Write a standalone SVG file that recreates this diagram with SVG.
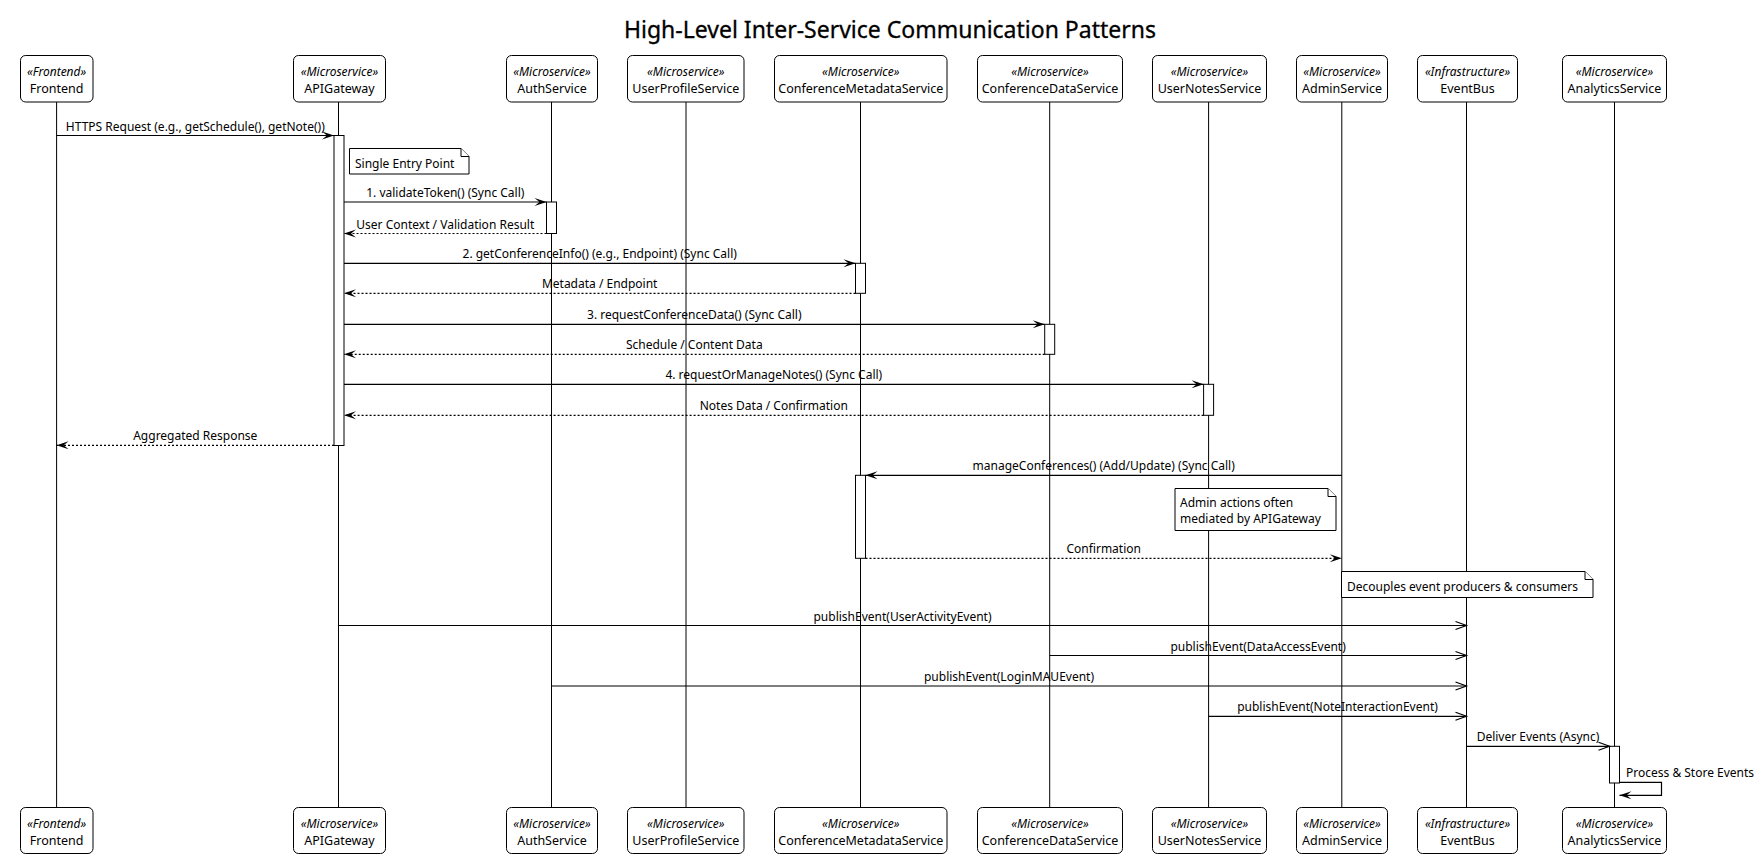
<svg xmlns="http://www.w3.org/2000/svg" width="1761" height="858" viewBox="0 0 1761 858">
<style>
text{font-family:"Noto Sans","DejaVu Sans",sans-serif;fill:#000}
.title{font-size:23px;text-anchor:middle;stroke:#000;stroke-width:0.3}
.st{font-size:12px;font-style:italic;text-anchor:middle}
.nm{font-size:12.5px;text-anchor:middle}
.msg{font-size:12px;text-anchor:middle}
.nt{font-size:12px}
.box{fill:#fff;stroke:#000;stroke-width:1}
.life{stroke:#000;stroke-width:1}
.act{fill:#fff;stroke:#000;stroke-width:1}
.note{fill:#fff;stroke:#000;stroke-width:1}
.sync{stroke:#000;stroke-width:1.2;fill:none;marker-end:url(#fill)}
.ret{stroke:#000;stroke-width:1.2;fill:none;stroke-dasharray:2 2;marker-end:url(#fill)}
.async{stroke:#000;stroke-width:1.2;fill:none;marker-end:url(#open)}
</style>
<defs>
<marker id="fill" markerUnits="userSpaceOnUse" markerWidth="14" markerHeight="10" refX="12" refY="4" orient="auto" overflow="visible"><path d="M0,0 L12,4 L0,8 L5,4 Z" fill="#000"/></marker>
<marker id="open" markerUnits="userSpaceOnUse" markerWidth="14" markerHeight="10" refX="11" refY="4" orient="auto" overflow="visible"><path d="M0,0 L11,4 L0,8" fill="none" stroke="#000" stroke-width="1.2"/></marker>
</defs>
<rect width="1761" height="858" fill="#fff"/>
<text class="title" x="890" y="38">High-Level Inter-Service Communication Patterns</text>

<g id="lifelines">
<line class="life" x1="56.6" y1="102" x2="56.6" y2="808"/>
<line class="life" x1="338.5" y1="102" x2="338.5" y2="808"/>
<line class="life" x1="551.5" y1="102" x2="551.5" y2="808"/>
<line class="life" x1="686" y1="102" x2="686" y2="808"/>
<line class="life" x1="860.5" y1="102" x2="860.5" y2="808"/>
<line class="life" x1="1049.7" y1="102" x2="1049.7" y2="808"/>
<line class="life" x1="1208.6" y1="102" x2="1208.6" y2="808"/>
<line class="life" x1="1341.8" y1="102" x2="1341.8" y2="808"/>
<line class="life" x1="1466.5" y1="102" x2="1466.5" y2="808"/>
<line class="life" x1="1614.5" y1="102" x2="1614.5" y2="808"/>
</g>

<g id="Frontend">
<rect class="box" x="20.5" y="55.5" width="72.5" height="46.5" rx="5"/>
<text class="st" x="56.6" y="76">«Frontend»</text><text class="nm" x="56.6" y="92.5">Frontend</text>
<rect class="box" x="20.5" y="807.5" width="72.5" height="46" rx="5"/>
<text class="st" x="56.6" y="828">«Frontend»</text><text class="nm" x="56.6" y="844.5">Frontend</text>
</g>
<g id="APIGateway">
<rect class="box" x="293.5" y="55.5" width="92" height="46.5" rx="5"/>
<text class="st" x="339.5" y="76">«Microservice»</text><text class="nm" x="339.5" y="92.5">APIGateway</text>
<rect class="box" x="293.5" y="807.5" width="92" height="46" rx="5"/>
<text class="st" x="339.5" y="828">«Microservice»</text><text class="nm" x="339.5" y="844.5">APIGateway</text>
</g>
<g id="AuthService">
<rect class="box" x="506.5" y="55.5" width="91" height="46.5" rx="5"/>
<text class="st" x="552" y="76">«Microservice»</text><text class="nm" x="552" y="92.5">AuthService</text>
<rect class="box" x="506.5" y="807.5" width="91" height="46" rx="5"/>
<text class="st" x="552" y="828">«Microservice»</text><text class="nm" x="552" y="844.5">AuthService</text>
</g>
<g id="UserProfileService">
<rect class="box" x="627.5" y="55.5" width="116.5" height="46.5" rx="5"/>
<text class="st" x="685.8" y="76">«Microservice»</text><text class="nm" x="685.8" y="92.5">UserProfileService</text>
<rect class="box" x="627.5" y="807.5" width="116.5" height="46" rx="5"/>
<text class="st" x="685.8" y="828">«Microservice»</text><text class="nm" x="685.8" y="844.5">UserProfileService</text>
</g>
<g id="ConferenceMetadataService">
<rect class="box" x="774.5" y="55.5" width="172.5" height="46.5" rx="5"/>
<text class="st" x="860.8" y="76">«Microservice»</text><text class="nm" x="860.8" y="92.5">ConferenceMetadataService</text>
<rect class="box" x="774.5" y="807.5" width="172.5" height="46" rx="5"/>
<text class="st" x="860.8" y="828">«Microservice»</text><text class="nm" x="860.8" y="844.5">ConferenceMetadataService</text>
</g>
<g id="ConferenceDataService">
<rect class="box" x="977.5" y="55.5" width="145" height="46.5" rx="5"/>
<text class="st" x="1050" y="76">«Microservice»</text><text class="nm" x="1050" y="92.5">ConferenceDataService</text>
<rect class="box" x="977.5" y="807.5" width="145" height="46" rx="5"/>
<text class="st" x="1050" y="828">«Microservice»</text><text class="nm" x="1050" y="844.5">ConferenceDataService</text>
</g>
<g id="UserNotesService">
<rect class="box" x="1152.5" y="55.5" width="114" height="46.5" rx="5"/>
<text class="st" x="1209.5" y="76">«Microservice»</text><text class="nm" x="1209.5" y="92.5">UserNotesService</text>
<rect class="box" x="1152.5" y="807.5" width="114" height="46" rx="5"/>
<text class="st" x="1209.5" y="828">«Microservice»</text><text class="nm" x="1209.5" y="844.5">UserNotesService</text>
</g>
<g id="AdminService">
<rect class="box" x="1296.5" y="55.5" width="91" height="46.5" rx="5"/>
<text class="st" x="1342" y="76">«Microservice»</text><text class="nm" x="1342" y="92.5">AdminService</text>
<rect class="box" x="1296.5" y="807.5" width="91" height="46" rx="5"/>
<text class="st" x="1342" y="828">«Microservice»</text><text class="nm" x="1342" y="844.5">AdminService</text>
</g>
<g id="EventBus">
<rect class="box" x="1417.5" y="55.5" width="100" height="46.5" rx="5"/>
<text class="st" x="1467.5" y="76">«Infrastructure»</text><text class="nm" x="1467.5" y="92.5">EventBus</text>
<rect class="box" x="1417.5" y="807.5" width="100" height="46" rx="5"/>
<text class="st" x="1467.5" y="828">«Infrastructure»</text><text class="nm" x="1467.5" y="844.5">EventBus</text>
</g>
<g id="AnalyticsService">
<rect class="box" x="1562.5" y="55.5" width="104" height="46.5" rx="5"/>
<text class="st" x="1614.5" y="76">«Microservice»</text><text class="nm" x="1614.5" y="92.5">AnalyticsService</text>
<rect class="box" x="1562.5" y="807.5" width="104" height="46" rx="5"/>
<text class="st" x="1614.5" y="828">«Microservice»</text><text class="nm" x="1614.5" y="844.5">AnalyticsService</text>
</g>

<g id="activations">
<rect class="act" x="334" y="135.5" width="10" height="310"/>
<rect class="act" x="546.5" y="202" width="10" height="31.5"/>
<rect class="act" x="855.5" y="263.3" width="10" height="30"/>
<rect class="act" x="1044.7" y="324.3" width="10" height="30"/>
<rect class="act" x="1203.6" y="384.3" width="10" height="31"/>
<rect class="act" x="855.5" y="475.3" width="10" height="83"/>
<rect class="act" x="1609.5" y="746.3" width="10" height="36.7"/>
</g>

<g id="notes">
<g id="note-entry">
<path class="note" d="M349.5,148.5 H461 L469,156.5 V174 H349.5 Z"/>
<path class="note" d="M461,148.5 V156.5 H469"/>
<text class="nt" x="355" y="167.5">Single Entry Point</text>
</g>
<g id="note-admin">
<path class="note" d="M1175,488.5 H1328 L1336,496.5 V530.5 H1175 Z"/>
<path class="note" d="M1328,488.5 V496.5 H1336"/>
<text class="nt" x="1180" y="507">Admin actions often</text>
<text class="nt" x="1180" y="523">mediated by APIGateway</text>
</g>
<g id="note-bus">
<path class="note" d="M1341.5,571.5 H1585 L1593,579.5 V597.5 H1341.5 Z"/>
<path class="note" d="M1585,571.5 V579.5 H1593"/>
<text class="nt" x="1347" y="590.5">Decouples event producers &amp; consumers</text>
</g>
</g>

<g id="connectors">
<line class="sync" x1="56.6" y1="135.5" x2="334" y2="135.5"/>
<text class="msg" x="195.3" y="130.5">HTTPS Request (e.g., getSchedule(), getNote())</text>
<line class="sync" x1="344" y1="202" x2="546.5" y2="202"/>
<text class="msg" x="445.3" y="197">1. validateToken() (Sync Call)</text>
<line class="ret" x1="546.5" y1="233.5" x2="344" y2="233.5"/>
<text class="msg" x="445.3" y="228.5">User Context / Validation Result</text>
<line class="sync" x1="344" y1="263.3" x2="855.5" y2="263.3"/>
<text class="msg" x="599.7" y="258.3">2. getConferenceInfo() (e.g., Endpoint) (Sync Call)</text>
<line class="ret" x1="855.5" y1="293.3" x2="344" y2="293.3"/>
<text class="msg" x="599.7" y="288.3">Metadata / Endpoint</text>
<line class="sync" x1="344" y1="324.3" x2="1044.7" y2="324.3"/>
<text class="msg" x="694.3" y="319.3">3. requestConferenceData() (Sync Call)</text>
<line class="ret" x1="1044.7" y1="354.3" x2="344" y2="354.3"/>
<text class="msg" x="694.3" y="349.3">Schedule / Content Data</text>
<line class="sync" x1="344" y1="384.3" x2="1203.6" y2="384.3"/>
<text class="msg" x="773.8" y="379.3">4. requestOrManageNotes() (Sync Call)</text>
<line class="ret" x1="1203.6" y1="415.3" x2="344" y2="415.3"/>
<text class="msg" x="773.8" y="410.3">Notes Data / Confirmation</text>
<line class="ret" x1="334" y1="445.3" x2="56.6" y2="445.3"/>
<text class="msg" x="195.3" y="440.3">Aggregated Response</text>
<line class="sync" x1="1341.8" y1="475.3" x2="865.5" y2="475.3"/>
<text class="msg" x="1103.7" y="470.3">manageConferences() (Add/Update) (Sync Call)</text>
<line class="ret" x1="865.5" y1="558.3" x2="1341.8" y2="558.3"/>
<text class="msg" x="1103.7" y="553.3">Confirmation</text>
<line class="async" x1="338.5" y1="625.5" x2="1466.5" y2="625.5"/>
<text class="msg" x="902.5" y="620.5">publishEvent(UserActivityEvent)</text>
<line class="async" x1="1049.7" y1="655.5" x2="1466.5" y2="655.5"/>
<text class="msg" x="1258.1" y="650.5">publishEvent(DataAccessEvent)</text>
<line class="async" x1="551.5" y1="686" x2="1466.5" y2="686"/>
<text class="msg" x="1009" y="681">publishEvent(LoginMAUEvent)</text>
<line class="async" x1="1208.6" y1="716.3" x2="1466.5" y2="716.3"/>
<text class="msg" x="1337.5" y="711.3">publishEvent(NoteInteractionEvent)</text>
<line class="async" x1="1466.5" y1="746.3" x2="1609.5" y2="746.3"/>
<text class="msg" x="1538" y="741.3">Deliver Events (Async)</text>
<path class="sync" d="M1619.5,782.3 H1661.5 V795.3 H1619.5"/>
<text class="nt" x="1626" y="777">Process &amp; Store Events</text>
</g>
</svg>
